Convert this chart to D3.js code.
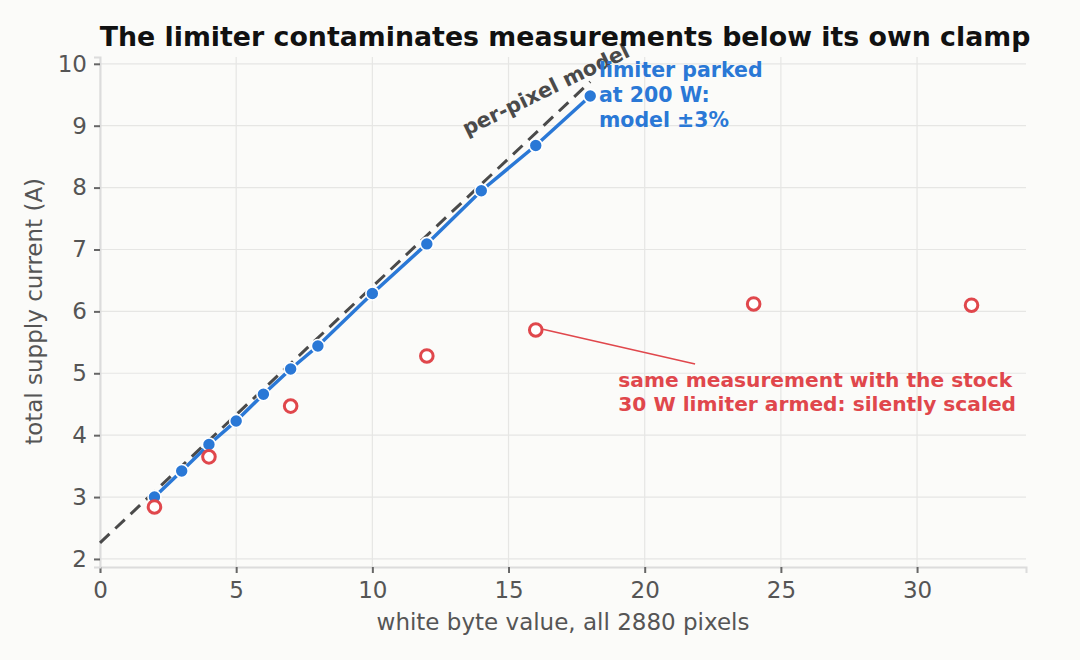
<!DOCTYPE html>
<html>
<head>
<meta charset="utf-8">
<script src="https://cdn.jsdelivr.net/npm/d3@7"></script>
<style>
  body { margin: 0; background: #fbfbf9; }
  svg { display: block; font-family: "DejaVu Sans", sans-serif; }
</style>
</head>
<body>
<svg id="chart"></svg>
<script>
// data
const parkedX = [2, 3, 4, 5, 6, 7, 8, 10, 12, 14, 16, 18];
const parkedY = [3.00, 3.42, 3.85, 4.23, 4.66, 5.07, 5.44, 6.29, 7.09, 7.95, 8.68, 9.48];
const armedX = [2, 4, 7, 12, 16, 24, 32];
const armedY = [2.84, 3.65, 4.47, 5.28, 5.70, 6.12, 6.10];
const modelX = [0, 18];
const modelY = [2.26, 9.71];
const xTicks = [0, 5, 10, 15, 20, 25, 30];
const yTicks = [2, 3, 4, 5, 6, 7, 8, 9, 10];

const width = 1080;
const height = 660;
const margin = {top: 57, right: 54, bottom: 93, left: 100};

const blue = "#2a78d6";
const red = "#e0474c";
const grey = "#555";

const svg = d3.select("#chart").attr("width", width).attr("height", height);
svg.append("rect").attr("width", width).attr("height", height).attr("fill", "#fbfbf9");

const x = d3.scaleLinear().domain([0, 34]).range([margin.left, width - margin.right]);
const y = d3.scaleLinear().domain([1.87, 10.11]).range([height - margin.bottom, margin.top]);

// grid
const grid = svg.append("g");
grid.selectAll(".gx").data(xTicks).enter().append("line")
  .attr("x1", d => x(d)).attr("x2", d => x(d))
  .attr("y1", y.range()[0]).attr("y2", y.range()[1])
  .attr("stroke", "#e6e6e4").attr("stroke-width", 1.2);
grid.selectAll(".gy").data(yTicks).enter().append("line")
  .attr("x1", x.range()[0]).attr("x2", x.range()[1])
  .attr("y1", d => y(d)).attr("y2", d => y(d))
  .attr("stroke", "#e6e6e4").attr("stroke-width", 1.2);

// axes
const xAxis = svg.append("g")
  .attr("transform", "translate(0," + y.range()[0] + ")")
  .call(d3.axisBottom(x).tickValues(xTicks).tickSize(6).tickPadding(9));
const yAxis = svg.append("g")
  .attr("transform", "translate(" + x.range()[0] + ",0)")
  .call(d3.axisLeft(y).tickValues(yTicks).tickSize(6).tickPadding(7));
[xAxis, yAxis].forEach(a => {
  a.select(".domain").attr("stroke", "#dcdcdc").attr("stroke-width", 2);
  a.selectAll(".tick line").attr("stroke", "#666").attr("stroke-width", 2);
  a.selectAll(".tick text").attr("fill", grey).attr("font-size", 23)
    .attr("font-family", "DejaVu Sans, sans-serif");
});

// model line
const line = d3.line().x(d => x(d[0])).y(d => y(d[1]));
svg.append("path")
  .datum(d3.zip(modelX, modelY))
  .attr("d", line)
  .attr("fill", "none").attr("stroke", "#4a4a4a")
  .attr("stroke-width", 3).attr("stroke-dasharray", "13,8");

// parked series
svg.append("path")
  .datum(d3.zip(parkedX, parkedY))
  .attr("d", line)
  .attr("fill", "none").attr("stroke", blue).attr("stroke-width", 3.5);
svg.selectAll(".parked").data(d3.zip(parkedX, parkedY)).enter().append("circle")
  .attr("cx", d => x(d[0])).attr("cy", d => y(d[1])).attr("r", 6.5)
  .attr("fill", blue).attr("stroke", "#fff").attr("stroke-width", 1.6);

// armed series
svg.selectAll(".armed").data(d3.zip(armedX, armedY)).enter().append("circle")
  .attr("cx", d => x(d[0])).attr("cy", d => y(d[1])).attr("r", 6.3)
  .attr("fill", "#fff").attr("stroke", red).attr("stroke-width", 3);

// annotations
svg.append("text")
  .attr("transform", "translate(" + 549 + "," + 96 + ") rotate(-26)")
  .attr("text-anchor", "middle")
  .attr("font-size", 20.7).attr("font-weight", "bold").attr("fill", "#4a4a4a")
  .text("per-pixel model");

const blueLabel = svg.append("text")
  .attr("x", x(18.32)).attr("y", 77)
  .attr("font-size", 20.5).attr("font-weight", "bold").attr("fill", blue);
["limiter parked", "at 200 W:", "model \u00b13%"].forEach((t, i) => {
  blueLabel.append("tspan").attr("x", x(18.32)).attr("dy", i ? 25 : 0).text(t);
});

svg.append("line")
  .attr("x1", x(16) + 6).attr("y1", y(5.70) - 1)
  .attr("x2", x(21.85)).attr("y2", y(5.15))
  .attr("stroke", red).attr("stroke-width", 1.5);
const redLabel = svg.append("text")
  .attr("x", x(19.03)).attr("y", 387)
  .attr("font-size", 20.2).attr("font-weight", "bold").attr("fill", red);
["same measurement with the stock", "30 W limiter armed: silently scaled"].forEach((t, i) => {
  redLabel.append("tspan").attr("x", x(19.03)).attr("dy", i ? 23.5 : 0).text(t);
});

// title and axis labels
svg.append("text")
  .attr("x", 565).attr("y", 46).attr("text-anchor", "middle")
  .attr("font-size", 26.8).attr("font-weight", "bold").attr("fill", "#111")
  .text("The limiter contaminates measurements below its own clamp");
svg.append("text")
  .attr("x", x(17)).attr("y", 630).attr("text-anchor", "middle")
  .attr("font-size", 23).attr("fill", grey)
  .text("white byte value, all 2880 pixels");
svg.append("text")
  .attr("transform", "translate(42," + y(6) + ") rotate(-90)")
  .attr("text-anchor", "middle")
  .attr("font-size", 23).attr("fill", grey)
  .text("total supply current (A)");
</script>
</body>
</html>
